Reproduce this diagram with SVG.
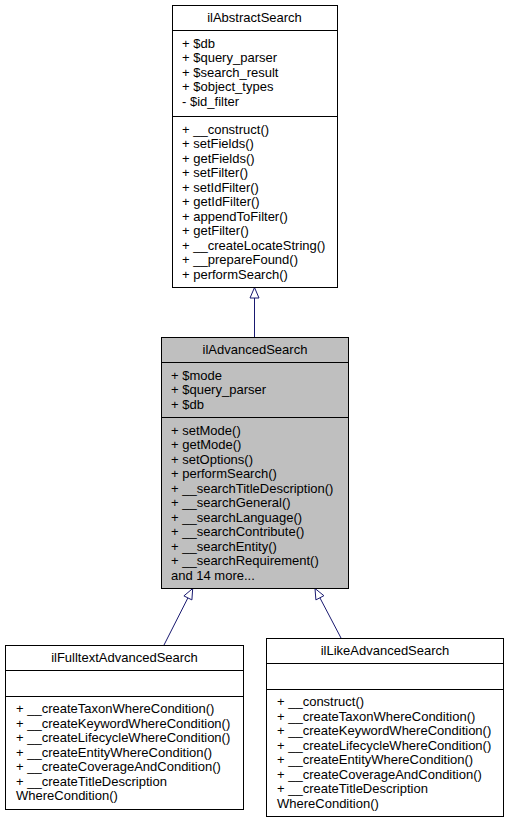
<svg xmlns="http://www.w3.org/2000/svg" width="509" height="823" viewBox="0 0 509 823">
<style>
text{font-family:"Liberation Sans",Arial,Helvetica,sans-serif;font-size:13px;fill:#000}
.t{text-anchor:middle}
.box{fill:#fff;stroke:#000;stroke-width:1}
.cur{fill:#bfbfbf;stroke:#000;stroke-width:1}
.div{stroke:#000;stroke-width:1}
.edge{stroke:#191970;stroke-width:1;fill:none}
.head{stroke:#191970;stroke-width:1;fill:#fff}
</style>
<rect width="509" height="823" fill="#fff"/>
<g id="connectors">
<line class="edge" x1="254.5" y1="298" x2="254.5" y2="337"/>
<polygon class="head" points="254.5,287.5 259,298 250,298"/>
<line class="edge" x1="187.9" y1="597.9" x2="164" y2="645"/>
<polygon class="head" points="192.7,588.5 191.9,599.9 183.9,595.9"/>
<line class="edge" x1="319.9" y1="597.8" x2="341" y2="638"/>
<polygon class="head" points="315,588.5 323.9,595.7 315.9,599.9"/>
</g>
<g id="ilAbstractSearch">
<rect class="box" x="172.5" y="5.5" width="165" height="282"/>
<line class="div" x1="172.5" y1="30.5" x2="337.5" y2="30.5"/>
<line class="div" x1="172.5" y1="116.5" x2="337.5" y2="116.5"/>
<text class="t" x="254.5" y="22">ilAbstractSearch</text>
<text x="182" y="47.5">+ $db</text>
<text x="182" y="62">+ $query_parser</text>
<text x="182" y="76.5">+ $search_result</text>
<text x="182" y="91">+ $object_types</text>
<text x="182" y="105.5">- $id_filter</text>
<text x="182" y="133.5">+ __construct()</text>
<text x="182" y="148">+ setFields()</text>
<text x="182" y="162.5">+ getFields()</text>
<text x="182" y="177">+ setFilter()</text>
<text x="182" y="191.5">+ setIdFilter()</text>
<text x="182" y="206">+ getIdFilter()</text>
<text x="182" y="220.5">+ appendToFilter()</text>
<text x="182" y="235">+ getFilter()</text>
<text x="182" y="249.5">+ __createLocateString()</text>
<text x="182" y="264">+ __prepareFound()</text>
<text x="182" y="278.5">+ performSearch()</text>
</g>
<g id="ilAdvancedSearch">
<rect class="cur" x="161.5" y="337.5" width="187" height="251"/>
<line class="div" x1="161.5" y1="362.5" x2="348.5" y2="362.5"/>
<line class="div" x1="161.5" y1="417.5" x2="348.5" y2="417.5"/>
<text class="t" x="255" y="354">ilAdvancedSearch</text>
<text x="171" y="379.5">+ $mode</text>
<text x="171" y="394">+ $query_parser</text>
<text x="171" y="408.5">+ $db</text>
<text x="171" y="434.5">+ setMode()</text>
<text x="171" y="449">+ getMode()</text>
<text x="171" y="463.5">+ setOptions()</text>
<text x="171" y="478">+ performSearch()</text>
<text x="171" y="492.5">+ __searchTitleDescription()</text>
<text x="171" y="507">+ __searchGeneral()</text>
<text x="171" y="521.5">+ __searchLanguage()</text>
<text x="171" y="536">+ __searchContribute()</text>
<text x="171" y="550.5">+ __searchEntity()</text>
<text x="171" y="565">+ __searchRequirement()</text>
<text x="171" y="579.5">and 14 more...</text>
</g>
<g id="ilFulltextAdvancedSearch">
<rect class="box" x="5.5" y="645.5" width="238" height="164"/>
<line class="div" x1="5.5" y1="670.5" x2="243.5" y2="670.5"/>
<line class="div" x1="5.5" y1="696.5" x2="243.5" y2="696.5"/>
<text class="t" x="124.5" y="662">ilFulltextAdvancedSearch</text>
<text x="16" y="713">+ __createTaxonWhereCondition()</text>
<text x="16" y="727.5">+ __createKeywordWhereCondition()</text>
<text x="16" y="742">+ __createLifecycleWhereCondition()</text>
<text x="16" y="756.5">+ __createEntityWhereCondition()</text>
<text x="16" y="771">+ __createCoverageAndCondition()</text>
<text x="16" y="785.5">+ __createTitleDescription</text>
<text x="16" y="800">WhereCondition()</text>
</g>
<g id="ilLikeAdvancedSearch">
<rect class="box" x="266.5" y="638.5" width="237" height="178"/>
<line class="div" x1="266.5" y1="663.5" x2="503.5" y2="663.5"/>
<line class="div" x1="266.5" y1="689.5" x2="503.5" y2="689.5"/>
<text class="t" x="385" y="655">ilLikeAdvancedSearch</text>
<text x="277" y="706">+ __construct()</text>
<text x="277" y="720.5">+ __createTaxonWhereCondition()</text>
<text x="277" y="735">+ __createKeywordWhereCondition()</text>
<text x="277" y="749.5">+ __createLifecycleWhereCondition()</text>
<text x="277" y="764">+ __createEntityWhereCondition()</text>
<text x="277" y="778.5">+ __createCoverageAndCondition()</text>
<text x="277" y="793">+ __createTitleDescription</text>
<text x="277" y="807.5">WhereCondition()</text>
</g>
</svg>
